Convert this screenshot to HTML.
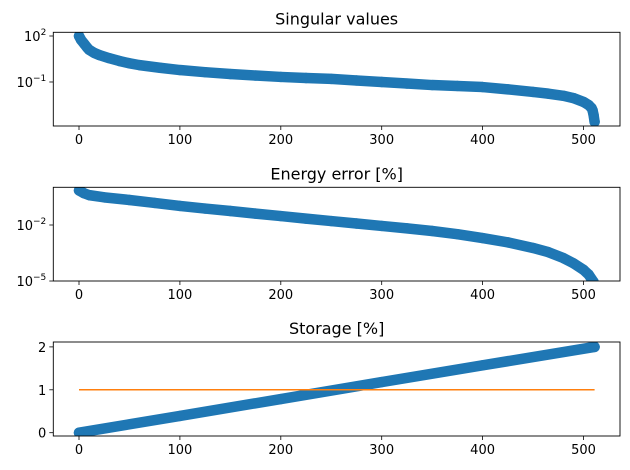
<!DOCTYPE html>
<html><head><meta charset="utf-8"><style>
html,body{margin:0;padding:0;background:#fff;}
svg{display:block;font-family:"DejaVu Sans","Liberation Sans",sans-serif;}
</style></head><body>
<svg id="fig" width="630" height="470" viewBox="0 0 630 470" xmlns="http://www.w3.org/2000/svg"></svg>
<script>
// ---- data ----
const svIdx = [0,2,5,8,10,15,20,30,40,50,60,80,100,125,150,175,200,225,250,275,300,325,350,375,400,425,450,465,480,490,500,505,508,509,510,511];
const svLog = [2.0,1.75,1.5,1.25,1.1,0.9,0.76,0.55,0.37,0.22,0.1,-0.07,-0.22,-0.36,-0.48,-0.58,-0.67,-0.74,-0.8,-0.9,-1.0,-1.1,-1.2,-1.26,-1.33,-1.48,-1.65,-1.76,-1.9,-2.05,-2.3,-2.5,-2.7,-2.85,-3.15,-3.6];
const enIdx = [0,5,10,25,50,75,100,125,150,175,200,225,250,275,300,325,350,375,400,425,450,465,480,490,500,505,510];
const enLog = [-0.15,-0.3,-0.4,-0.52,-0.66,-0.82,-0.98,-1.12,-1.25,-1.39,-1.52,-1.66,-1.79,-1.92,-2.05,-2.18,-2.32,-2.49,-2.7,-2.93,-3.23,-3.45,-3.77,-4.05,-4.4,-4.65,-5.05];
const stIdx = [0,100,200,300,400,511];
const stVal = [0.0,0.39,0.785,1.18,1.57,2.0];
const refLine = [1,1];
const xTicks = [0,100,200,300,400,500];

const NS="http://www.w3.org/2000/svg";
const fig=document.getElementById('fig');
function mk(tag,attrs,parent){const e=document.createElementNS(NS,tag);for(const k in attrs)e.setAttribute(k,attrs[k]);(parent||fig).appendChild(e);return e;}
const X0=53.3,X1=620;
function xs(v){return 79+v*1.009;}
const BLUE='#1f77b4';

function panel(name,top,bot,title){
  const g=mk('g',{});
  
  
  const clipId='c'+name;
  const cp=mk('clipPath',{id:clipId},g);
  mk('rect',{x:X0,y:top,width:X1-X0,height:bot-top},cp);
  const plot=mk('g',{'clip-path':'url(#'+clipId+')'},g);
  const t=mk('text',{x:(X0+X1)/2,y:top-8,'text-anchor':'middle','font-size':'16',fill:'#000'},g);
  t.textContent=title;
  
  
  xTicks.forEach(v=>{
    mk('line',{x1:xs(v),x2:xs(v),y1:bot,y2:bot+4,stroke:'#000','stroke-width':0.8},g);
    const l=mk('text',{x:xs(v),y:bot+18,'text-anchor':'middle','font-size':'13'},g);
    l.textContent=v;
    
    
  });
  return {g,plot,top,bot};
}
function yTick(p,y,base,sup){
  mk('line',{x1:X0-4,x2:X0,y1:y,y2:y,stroke:'#000','stroke-width':0.8},p.g);
  const t=mk('text',{x:X0-7,y:y+5,'text-anchor':'end','font-size':'13'},p.g);
  
  
  if(sup!==undefined){
    t.textContent=base;
    const s=mk('tspan',{dy:-6,'font-size':'9'},t);s.textContent=sup;
  } else t.textContent=base;
}
function scatter(p,idx,vals,ys,name){
  const pts=idx.map((v,i)=>xs(v)+','+ys(vals[i])).join(' ');
  const pl=mk('polyline',{points:pts,fill:'none',stroke:BLUE,'stroke-width':10.5,'stroke-linecap':'round','stroke-linejoin':'round'},p.plot);
  
  
  idx.forEach((v,i)=>{
    const c=mk('circle',{cx:xs(v),cy:ys(vals[i]),r:5.2,fill:BLUE},p.plot);
    
    
  });
}
function frame(p){mk('rect',{x:X0,y:p.top,width:X1-X0,height:p.bot-p.top,fill:'none',stroke:'#000','stroke-width':0.9},p.g);}

// Panel 1
const p1=panel('singular-values-panel',32.3,126,'Singular values');
const ys1=v=>36-(v-2)*15.33;
scatter(p1,svIdx,svLog,ys1,'singular-values-series');
yTick(p1,ys1(2),'10','2');yTick(p1,ys1(-1),'10','−1');
frame(p1);

// Panel 2
const p2=panel('energy-error-panel',187.3,281,'Energy error [%]');
const ys2=v=>225-(v+2)*18.67;
scatter(p2,enIdx,enLog,ys2,'energy-error-series');
yTick(p2,ys2(-2),'10','−2');yTick(p2,ys2(-5),'10','−5');
frame(p2);

// Panel 3
const p3=panel('storage-panel',342,436,'Storage [%]');
const ys3=v=>432.7-v*42.9;
scatter(p3,stIdx,stVal,ys3,'storage-series');
const ol=mk('line',{x1:xs(0),x2:xs(511),y1:ys3(refLine[0]),y2:ys3(refLine[1]),stroke:'#ff7f0e','stroke-width':1.5},p3.plot);


[0,1,2].forEach(v=>yTick(p3,ys3(v),String(v)));
frame(p3);
</script>
</body></html>
